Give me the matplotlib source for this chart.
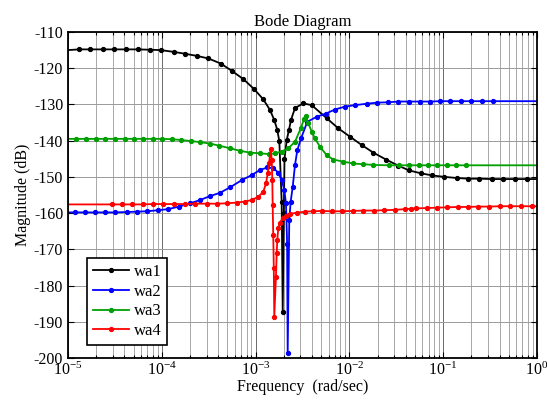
import numpy as np
import matplotlib
matplotlib.use("Agg")
import matplotlib.pyplot as plt
from matplotlib.ticker import LogLocator, NullFormatter

plt.rcParams['font.family'] = ['Liberation Serif', 'DejaVu Serif']
plt.rcParams['mathtext.fontset'] = 'custom'
plt.rcParams['mathtext.rm'] = 'Liberation Serif'
plt.rcParams['mathtext.it'] = 'Liberation Serif:italic'
plt.rcParams['axes.unicode_minus'] = False

# log10 of frequency (rad/sec) and magnitude (dB) for each response
wa1_logw = [-5.000, -4.883, -4.765, -4.627, -4.510, -4.382, -4.254, -4.126, -4.009,
            -3.870, -3.753, -3.625, -3.504, -3.372, -3.255, -3.131, -3.014, -2.918,
            -2.847, -2.801, -2.769, -2.747, -2.722, -2.711, -2.699, -2.692, -2.668,
            -2.644, -2.623, -2.580, -2.492, -2.402, -2.242, -2.118, -1.994, -1.869,
            -1.745, -1.610, -1.479, -1.365, -1.240, -1.116, -0.988, -0.856, -0.732,
            -0.615, -0.483, -0.359, -0.235, -0.110, 0.000]
wa1_db = [-115.0, -114.8, -114.8, -114.8, -114.8, -114.8, -114.8, -114.9, -115.0,
          -115.5, -116.0, -116.6, -117.3, -118.7, -120.7, -123.0, -125.8, -128.6,
          -131.5, -134.3, -137.0, -140.2, -156.8, -187.2, -160.0, -145.0, -139.8,
          -137.0, -134.3, -131.0, -129.7, -130.2, -133.8, -136.6, -138.9, -141.2,
          -143.3, -145.2, -146.9, -148.2, -149.0, -149.6, -150.0, -150.3, -150.5,
          -150.5, -150.6, -150.6, -150.6, -150.6, -150.6]

wa2_logw = [-5.000, -4.925, -4.819, -4.712, -4.606, -4.499, -4.374, -4.268, -4.155,
            -4.044, -3.931, -3.817, -3.699, -3.593, -3.486, -3.380, -3.273, -3.148,
            -3.042, -2.953, -2.875, -2.811, -2.758, -2.722, -2.694, -2.676, -2.664,
            -2.658, -2.641, -2.626, -2.604, -2.580, -2.555, -2.516, -2.449, -2.349,
            -2.249, -2.154, -2.047, -1.940, -1.816, -1.703, -1.585, -1.479, -1.365,
            -1.251, -1.141, -1.034, -0.924, -0.810, -0.700, -0.586, -0.472, 0.000]
wa2_db = [-159.8, -159.8, -159.8, -159.8, -159.8, -159.8, -159.7, -159.6, -159.5,
          -159.2, -158.9, -158.2, -157.3, -156.4, -155.3, -154.4, -152.9, -150.9,
          -149.5, -148.1, -147.4, -147.6, -148.8, -150.9, -153.6, -157.3, -168.5,
          -198.7, -161.9, -156.8, -152.7, -146.7, -142.6, -139.4, -134.8, -133.4,
          -132.5, -131.4, -130.6, -130.2, -129.8, -129.5, -129.4, -129.2, -129.2,
          -129.2, -129.2, -129.1, -129.1, -129.1, -129.1, -129.1, -129.1, -129.1]

wa3_logw = [-5.000, -4.915, -4.808, -4.701, -4.606, -4.499, -4.392, -4.296, -4.197,
            -4.097, -3.995, -3.894, -3.799, -3.692, -3.593, -3.486, -3.387, -3.273,
            -3.166, -3.060, -2.953, -2.854, -2.793, -2.722, -2.651, -2.580, -2.519,
            -2.484, -2.463, -2.438, -2.402, -2.367, -2.313, -2.242, -2.172, -2.065,
            -1.958, -1.852, -1.745, -1.575, -1.468, -1.361, -1.261, -1.159, -1.063,
            -0.963, -0.864, -0.757, 0.000]
wa3_db = [-139.5, -139.5, -139.5, -139.5, -139.5, -139.5, -139.5, -139.5, -139.5,
          -139.5, -139.5, -139.6, -139.8, -140.1, -140.4, -140.8, -141.4, -142.1,
          -142.8, -143.3, -143.5, -143.7, -143.5, -143.0, -142.1, -140.3, -136.6,
          -134.1, -133.3, -135.2, -137.5, -139.4, -141.7, -144.0, -145.2, -145.8,
          -146.3, -146.5, -146.7, -146.8, -146.8, -146.8, -146.8, -146.8, -146.8,
          -146.8, -146.8, -146.8, -146.8]

wa4_logw = [-5.000, -4.534, -4.428, -4.321, -4.204, -4.091, -3.984, -3.867, -3.753,
            -3.646, -3.521, -3.415, -3.308, -3.202, -3.113, -3.042, -2.971, -2.918,
            -2.889, -2.871, -2.857, -2.839, -2.828, -2.822, -2.818, -2.812, -2.806,
            -2.801, -2.783, -2.775, -2.769, -2.758, -2.740, -2.711, -2.676, -2.633,
            -2.562, -2.473, -2.385, -2.295, -2.189, -2.082, -1.965, -1.852, -1.738,
            -1.631, -1.514, -1.407, -1.346, -1.290, -1.176, -1.069, -0.956, -0.839,
            -0.732, -0.626, -0.509, -0.394, -0.288, -0.174, -0.057, 0.000]
wa4_db = [-157.6, -157.6, -157.6, -157.6, -157.6, -157.5, -157.5, -157.5, -157.5,
          -157.4, -157.4, -157.4, -157.3, -157.1, -156.8, -156.4, -155.5, -154.1,
          -151.8, -149.0, -146.3, -142.4, -145.3, -150.9, -157.7, -166.0, -175.2,
          -188.6, -177.6, -171.1, -167.4, -164.2, -162.6, -161.4, -160.8, -160.2,
          -159.9, -159.6, -159.5, -159.4, -159.5, -159.5, -159.4, -159.3, -159.3,
          -159.2, -159.1, -158.9, -158.8, -158.7, -158.6, -158.5, -158.4, -158.3,
          -158.3, -158.2, -158.2, -158.1, -158.1, -158.1, -158.1, -158.1]

series = [("wa1", wa1_logw, wa1_db, "#000000"),
          ("wa2", wa2_logw, wa2_db, "#0000ff"),
          ("wa3", wa3_logw, wa3_db, "#00a000"),
          ("wa4", wa4_logw, wa4_db, "#ff0000")]

y_ticks = [-110, -120, -130, -140, -150, -160, -170, -180, -190, -200]
x_ticks = [1e-5, 1e-4, 1e-3, 1e-2, 1e-1, 1e0]
x_tick_labels = [r"$10^{-5}$", r"$10^{-4}$", r"$10^{-3}$", r"$10^{-2}$",
                 r"$10^{-1}$", r"$10^{0}$"]

fig = plt.figure(figsize=(5.47, 4.05), dpi=100)
ax = fig.add_axes([68 / 547, 1 - 358 / 405, 469 / 547, 326 / 405])

for name, logw, db, color in series:
    w = 10.0 ** np.asarray(logw)
    ax.plot(w, db, color=color, lw=1.3, marker="o", ms=2.8,
            markevery=slice(1, len(w) - 1), label=name)

ax.set_xscale("log")
ax.set_xlim(1e-5, 1e0)
ax.set_ylim(-200, -110)
ax.set_xticks(x_ticks)
ax.set_xticklabels(x_tick_labels)
ax.xaxis.set_minor_locator(LogLocator(base=10, subs=np.arange(2, 10), numticks=20))
ax.xaxis.set_minor_formatter(NullFormatter())
ax.set_yticks(y_ticks)

ax.grid(True, which="major", axis="x", color="#6a6a6a", lw=0.7)
ax.grid(True, which="minor", axis="x", color="#9a9a9a", lw=0.6)
ax.grid(True, which="major", axis="y", color="#9a9a9a", lw=0.7)
ax.set_axisbelow(True)

ax.tick_params(which="both", direction="in", top=True, right=True,
               labelsize=11.5, colors="black")
ax.tick_params(which="major", length=4, width=0.8)
ax.tick_params(which="minor", length=2.5, width=0.8)
ax.tick_params(axis="x", pad=3)
for sp in ax.spines.values():
    sp.set_linewidth(1.3)

ax.set_title("Bode Diagram", fontsize=12, pad=4)
ax.set_xlabel("Frequency  (rad/sec)", fontsize=11.5, labelpad=0)
ax.set_ylabel("Magnitude (dB)", fontsize=11.5, labelpad=2)

leg = ax.legend(loc="lower left", bbox_to_anchor=(0.0405, 0.04),
                borderaxespad=0, fontsize=12, handlelength=2.2,
                handletextpad=0.25, labelspacing=0.22, borderpad=0.35,
                fancybox=False, framealpha=1, edgecolor="black")
leg.get_frame().set_linewidth(1.2)

fig.savefig("out.png", dpi=100)
